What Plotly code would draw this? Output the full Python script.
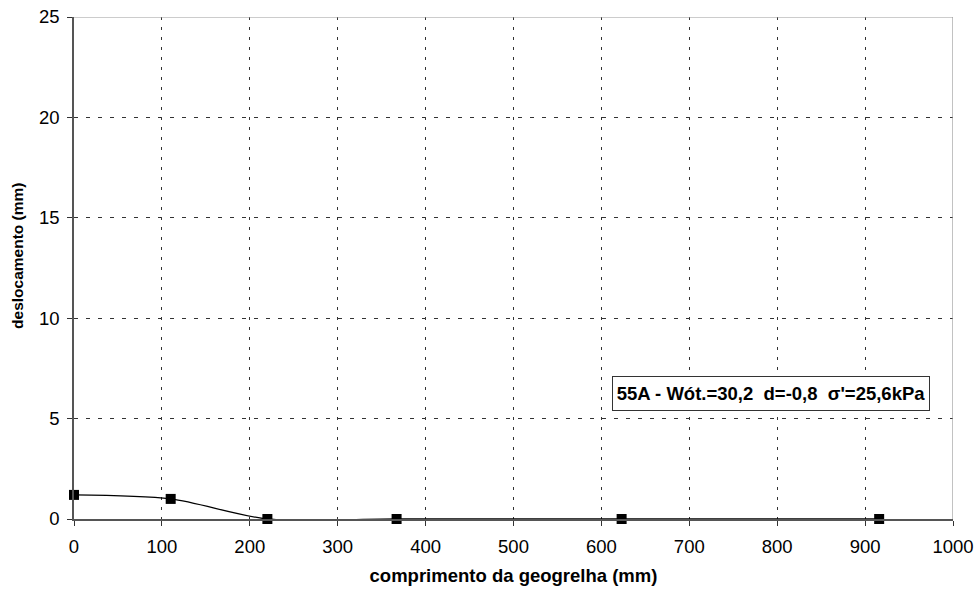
import plotly.graph_objects as go

x_vals = [0, 110, 220, 367, 623, 916]
y_vals = [1.2, 1.0, 0.0, 0.0, 0.0, 0.0]
x_ticks = [0, 100, 200, 300, 400, 500, 600, 700, 800, 900, 1000]
y_ticks = [0, 5, 10, 15, 20, 25]
label = "55A - Wót.=30,2\u00a0\u00a0d=-0,8\u00a0\u00a0σ'=25,6kPa"
y_title = "deslocamento (mm)"
x_title = "comprimento da geogrelha (mm)"

fig = go.Figure()
fig.add_trace(go.Scatter(
    x=x_vals, y=y_vals, mode="lines+markers",
    line=dict(color="black", width=1.3, shape="spline", smoothing=0.8),
    marker=dict(symbol="square", size=10, color="black"),
    showlegend=False, cliponaxis=False,
))

font = "Liberation Sans, Arial, sans-serif"
fig.update_layout(
    width=974, height=594,
    margin=dict(l=74, r=21, t=17, b=75),
    paper_bgcolor="white", plot_bgcolor="white",
    font=dict(family=font, size=18, color="black"),
    xaxis=dict(
        range=[0, 1000], tickvals=x_ticks, ticks="outside", ticklen=5,
        tickcolor="#333", showgrid=True, gridcolor="#333", griddash="3px,7px",
        gridwidth=1, showline=True, linecolor="#555", linewidth=1.5,
        mirror=False, zeroline=False, automargin=False,
        tickfont=dict(size=18.5), ticklabelstandoff=5,
        title=dict(text="<b>" + x_title + "</b>", font=dict(size=18.5), standoff=13),
    ),
    yaxis=dict(
        range=[0, 25], tickvals=y_ticks, ticks="outside", ticklen=5,
        tickcolor="#333", showgrid=True, gridcolor="#333", griddash="4px,8px",
        gridwidth=1, showline=True, linecolor="#555", linewidth=1.5,
        zeroline=False, automargin=False,
        tickfont=dict(size=18.5), ticklabelstandoff=4,
    ),
    shapes=[
        dict(type="line", xref="x", yref="y", x0=1000, x1=1000, y0=0, y1=25,
             line=dict(color="#999", width=1.2)),
        dict(type="line", xref="x", yref="y", x0=0, x1=1000, y0=25, y1=25,
             line=dict(color="#999", width=1.2)),
    ],
    annotations=[
        dict(
            x=793.5, y=6.27, xref="x", yref="y", text="<b>" + label + "</b>",
            showarrow=False, font=dict(size=18.5, family=font),
            width=312, height=29,
            bordercolor="#333", borderwidth=1, bgcolor="white", borderpad=2,
        ),
        dict(
            x=-0.0637, y=0.524, xref="paper", yref="paper",
            text="<b>" + y_title + "</b>", textangle=-90, showarrow=False,
            xanchor="center", yanchor="middle", font=dict(size=15.5, family=font),
        ),
    ],
)

fig.write_html("out.html")
